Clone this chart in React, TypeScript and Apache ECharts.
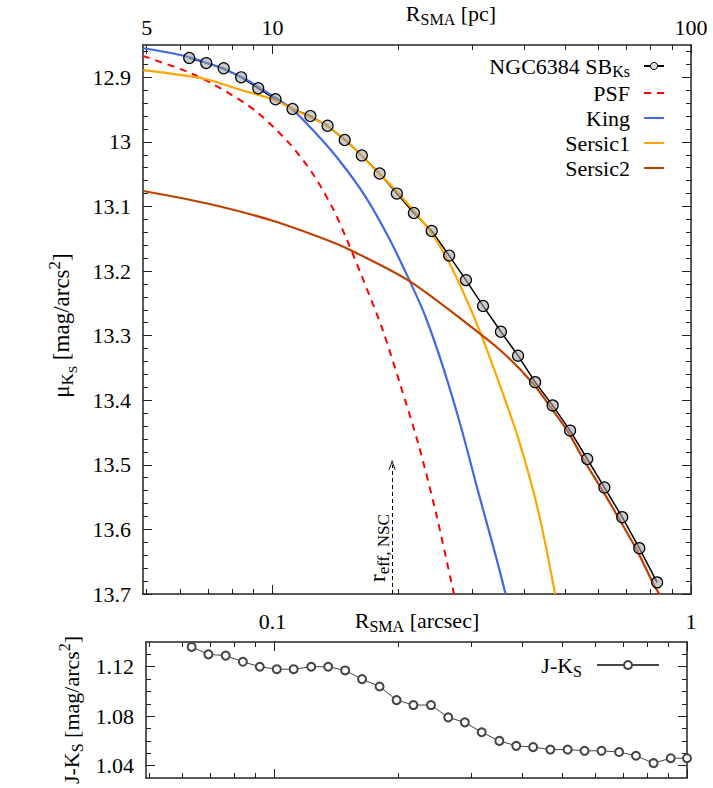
import React, { useEffect, useRef } from 'react';
import * as echarts from 'echarts';

const FONT = '"Liberation Serif", "DejaVu Serif", "Times New Roman", serif';
const AX = '#222';

// isophote radii (arcsec), shared by both panels
const radiusArcsec = [0.0632, 0.0694, 0.0764, 0.0841, 0.0924, 0.1016, 0.1116, 0.1231, 0.1353, 0.1487, 0.1634, 0.1802, 0.1981, 0.2176, 0.2400, 0.2642, 0.2898, 0.3184, 0.3513, 0.3860, 0.4241, 0.4669, 0.5140, 0.5649, 0.6208, 0.6848, 0.7523, 0.8299, 0.9131, 1.0];
// Ks surface brightness (mag/arcsec^2), first 28 radii
const sbKs = [12.870, 12.878, 12.886, 12.900, 12.917, 12.934, 12.949, 12.960, 12.975, 12.997, 13.021, 13.049, 13.080, 13.110, 13.138, 13.176, 13.214, 13.254, 13.294, 13.331, 13.372, 13.408, 13.447, 13.491, 13.535, 13.581, 13.629, 13.682];
// J-Ks colour
const jks = [1.136, 1.130, 1.129, 1.124, 1.120, 1.118, 1.118, 1.120, 1.120, 1.117, 1.110, 1.104, 1.093, 1.089, 1.089, 1.079, 1.075, 1.067, 1.060, 1.056, 1.055, 1.053, 1.053, 1.052, 1.052, 1.051, 1.048, 1.042, 1.046, 1.046];

// model components
const psfX = [0.0490, 0.0634, 0.0760, 0.0914, 0.1095, 0.1246, 0.1388, 0.1495, 0.1627, 0.1830, 0.2019, 0.2233, 0.2458, 0.2679, 0.2714];
const psfMu = [12.867, 12.893, 12.919, 12.953, 13.002, 13.049, 13.101, 13.147, 13.205, 13.290, 13.376, 13.469, 13.575, 13.684, 13.700];
const kingX = [0.0491, 0.0633, 0.0833, 0.1000, 0.1116, 0.1245, 0.1441, 0.1668, 0.1894, 0.2129, 0.2317, 0.2556, 0.2819, 0.3104, 0.3431, 0.3604];
const kingMu = [12.855, 12.869, 12.898, 12.929, 12.950, 12.981, 13.028, 13.085, 13.148, 13.216, 13.270, 13.349, 13.441, 13.543, 13.646, 13.700];
const sersic1X = [0.0491, 0.0694, 0.0833, 0.1000, 0.1116, 0.1315, 0.1494, 0.1729, 0.2001, 0.2402, 0.2642, 0.2875, 0.3128, 0.3458, 0.3860, 0.4308, 0.4734];
const sersic1Mu = [12.889, 12.903, 12.919, 12.934, 12.949, 12.971, 12.997, 13.038, 13.080, 13.142, 13.187, 13.237, 13.293, 13.369, 13.458, 13.570, 13.700];
const sersic2X = [0.0491, 0.0694, 0.1000, 0.1364, 0.1564, 0.2129, 0.3102, 0.3604, 0.4191, 0.4633, 0.5081, 0.5561, 0.6148, 0.6779, 0.7450, 0.8168, 0.8460];
const sersic2Mu = [13.076, 13.095, 13.122, 13.153, 13.170, 13.216, 13.295, 13.330, 13.374, 13.412, 13.449, 13.494, 13.540, 13.587, 13.634, 13.687, 13.703];

const reffNSC = 0.193;
const reffTipMu = 13.5;

// ticks
const xMajorBottom = [0.1, 1];
const xMinorBottom = [0.05, 0.06, 0.07, 0.08, 0.09, 0.2, 0.3, 0.4, 0.5, 0.6, 0.7, 0.8, 0.9];
const xMajorTop = [0.05, 0.1, 1];
const xMinorTop = [0.06, 0.07, 0.08, 0.09, 0.2, 0.3, 0.4, 0.5, 0.6, 0.7, 0.8, 0.9];
const yTopMajor = [12.9, 13, 13.1, 13.2, 13.3, 13.4, 13.5, 13.6, 13.7];
const yBotMajor = [1.04, 1.08, 1.12];
const yBotMinor = [1.05, 1.06, 1.07, 1.09, 1.10, 1.11, 1.13];
const yTopMinor: number[] = [];
for (let i = 0; i <= 42; i++) {
  const v = Math.round((12.86 + i * 0.02) * 100) / 100;
  if (Math.round(v * 100) % 10 !== 0) yTopMinor.push(v);
}

const zip = (xs: number[], ys: number[]) => ys.map((y, i) => [xs[i], y]);

const M = { fontFamily: FONT, fontSize: 22, lineHeight: 22, color: '#000' };
const S = { fontFamily: FONT, fontSize: 16, lineHeight: 22, color: '#000', padding: [12, 0, 0, 0] };
const SS = { fontFamily: FONT, fontSize: 12, lineHeight: 22, color: '#000', padding: [22, 0, 0, 0] };
const SUP = { fontFamily: FONT, fontSize: 16, lineHeight: 22, color: '#000', padding: [0, 0, 14, 0] };
const RICH = { m: M, s: S, ss: SS, sup: SUP };
const RICH_Y = {
  m: { ...M, fontSize: 23 },
  s: { ...S, fontSize: 17 },
  ss: { ...SS, fontSize: 13 },
  sup: { ...SUP, fontSize: 17 },
};

const xRange = { type: 'log', logBase: 10, min: 0.049, max: 1 };

function mkAxis(o: any) {
  return {
    ...o.range,
    gridIndex: o.grid,
    position: o.pos,
    axisLine: { show: o.line, onZero: false, lineStyle: { color: AX, width: 1.5 } },
    axisTick: { show: true, inside: true, length: o.len, lineStyle: { color: AX, width: 1 }, customValues: o.ticks },
    axisLabel: o.labels
      ? { show: true, customValues: o.labels, formatter: o.fmt, margin: o.margin, fontFamily: FONT, fontSize: 22, color: '#000' }
      : { show: false },
    splitLine: { show: false },
    minorTick: { show: false },
    minorSplitLine: { show: false },
    ...(o.extra || {}),
  };
}

const nameStyle = (padding?: number[], rich: any = RICH) => ({ fontFamily: FONT, fontSize: 22, lineHeight: 22, color: '#000', rich, padding });

const xAxes = [
  mkAxis({ range: xRange, grid: 0, pos: 'bottom', ticks: xMajorBottom, len: 9, line: true, labels: xMajorBottom, fmt: (v: number) => String(+v.toFixed(2)), margin: 16,
    extra: { name: '{m|R}{s|SMA}{m| [arcsec]}', nameLocation: 'middle', nameGap: 15, nameMoveOverlap: false, nameTextStyle: nameStyle() } }),
  mkAxis({ range: xRange, grid: 0, pos: 'bottom', ticks: xMinorBottom, len: 5, line: false }),
  mkAxis({ range: xRange, grid: 0, pos: 'top', ticks: xMajorTop, len: 9, line: true, labels: xMajorTop, fmt: (v: number) => String(Math.round(v * 100)), margin: 7,
    extra: { name: '{m|R}{s|SMA}{m| [pc]}', nameLocation: 'middle', nameGap: 21, nameMoveOverlap: false, nameTextStyle: nameStyle([0, 0, 0, 68]) } }),
  mkAxis({ range: xRange, grid: 0, pos: 'top', ticks: xMinorTop, len: 5, line: false }),
  mkAxis({ range: xRange, grid: 1, pos: 'bottom', ticks: xMajorBottom, len: 9, line: true }),
  mkAxis({ range: xRange, grid: 1, pos: 'bottom', ticks: xMinorBottom, len: 5, line: false }),
  mkAxis({ range: xRange, grid: 1, pos: 'top', ticks: xMajorBottom, len: 9, line: true }),
  mkAxis({ range: xRange, grid: 1, pos: 'top', ticks: xMinorBottom, len: 5, line: false }),
];

const yTopRange = { type: 'value', min: 12.85, max: 13.7, inverse: true };
const yBotRange = { type: 'value', min: 1.03, max: 1.14 };

const yAxes = [
  mkAxis({ range: yTopRange, grid: 0, pos: 'left', ticks: yTopMajor, len: 9, line: true, labels: yTopMajor, fmt: (v: number) => String(+v.toFixed(2)), margin: 12,
    extra: { name: '{m|μ}{s|K}{ss|S}{m| [mag/arcs}{sup|2}{m|]}', nameLocation: 'middle', nameRotate: 90, nameGap: 71, nameMoveOverlap: false, nameTextStyle: nameStyle([0, 12, 0, 0], RICH_Y) } }),
  mkAxis({ range: yTopRange, grid: 0, pos: 'left', ticks: yTopMinor, len: 5, line: false }),
  mkAxis({ range: yTopRange, grid: 0, pos: 'right', ticks: yTopMajor, len: 9, line: true }),
  mkAxis({ range: yTopRange, grid: 0, pos: 'right', ticks: yTopMinor, len: 5, line: false }),
  mkAxis({ range: yBotRange, grid: 1, pos: 'left', ticks: yBotMajor, len: 9, line: true, labels: yBotMajor, fmt: (v: number) => v.toFixed(2), margin: 12,
    extra: { name: '{m|J-K}{s|S}{m| [mag/arcs}{sup|2}{m|]}', nameLocation: 'middle', nameRotate: 90, nameGap: 64, nameMoveOverlap: false, nameTextStyle: nameStyle() } }),
  mkAxis({ range: yBotRange, grid: 1, pos: 'left', ticks: yBotMinor, len: 5, line: false }),
  mkAxis({ range: yBotRange, grid: 1, pos: 'right', ticks: yBotMajor, len: 9, line: true }),
  mkAxis({ range: yBotRange, grid: 1, pos: 'right', ticks: yBotMinor, len: 5, line: false }),
];

const curve = (name: string, xs: number[], ys: number[], color: string, extraLine: any = {}, more: any = {}) => ({
  name,
  type: 'line',
  xAxisIndex: 0,
  yAxisIndex: 0,
  data: zip(xs, ys),
  symbol: 'none',
  smooth: 0.3,
  itemStyle: { color },
  lineStyle: { color, width: 2.2, ...extraLine },
  ...more,
});

const option = {
  animation: false,
  backgroundColor: '#fff',
  grid: [
    { left: 143, top: 45, width: 548, height: 549, containLabel: false, outerBoundsMode: 'none' },
    { left: 146, top: 642, width: 541, height: 136, containLabel: false, outerBoundsMode: 'none' },
  ],
  xAxis: xAxes,
  yAxis: yAxes,
  legend: [
    {
      data: [
        { name: 'NGC6384 SBKs', itemStyle: { color: '#ddd', borderColor: '#000', borderWidth: 1 } },
        { name: 'PSF', itemStyle: { opacity: 0 } },
        { name: 'King', itemStyle: { opacity: 0 } },
        { name: 'Sersic1', itemStyle: { opacity: 0 } },
        { name: 'Sersic2', itemStyle: { opacity: 0 } },
      ],
      orient: 'vertical',
      right: 48,
      top: 53,
      align: 'right',
      itemWidth: 20,
      itemHeight: 9,
      itemGap: 3,
      padding: 0,
      selectedMode: false,
      formatter: (n: string) => (n === 'NGC6384 SBKs' ? '{m|NGC6384 SB}{s|Ks}' : '{m|' + n + '}'),
      textStyle: { fontFamily: FONT, fontSize: 22, lineHeight: 20, color: '#000', padding: [0, 9, 0, 0], rich: { m: { ...M, lineHeight: 20 }, s: { ...S, lineHeight: 20, padding: [10, 0, 0, 0] } } },
    },
    {
      data: [{ name: 'J-KS' }],
      orient: 'vertical',
      right: 53,
      top: 651,
      align: 'right',
      itemWidth: 62,
      itemHeight: 10,
      padding: 0,
      selectedMode: false,
      formatter: () => '{m|J-K}{s|S}',
      textStyle: { fontFamily: FONT, fontSize: 22, lineHeight: 20, color: '#000', padding: [0, 10, 0, 0], rich: { m: { ...M, lineHeight: 20 }, s: { ...S, lineHeight: 20, padding: [12, 0, 0, 0] } } },
    },
  ],
  series: [
    {
      name: 'NGC6384 SBKs',
      type: 'line',
      xAxisIndex: 0,
      yAxisIndex: 0,
      data: zip(radiusArcsec, sbKs),
      symbol: 'circle',
      symbolSize: 11,
      itemStyle: { color: 'rgba(160,160,160,0.55)', borderColor: '#000', borderWidth: 1.2 },
      lineStyle: { color: '#000', width: 1.5 },
    },
    curve('PSF', psfX, psfMu, '#ff0000', { type: [7, 6], width: 2 }, {
      markLine: {
        silent: true,
        symbol: ['none', 'path://M0,12 L6,0 L12,12 L10.4,12 L6,3.2 L1.6,12 Z'],
        symbolSize: [7, 10],
        lineStyle: { color: '#000', type: [4, 3], width: 1 },
        label: {
          show: true,
          position: 'insideStartTop',
          distance: 4,
          padding: [0, 0, 0, 8],
          formatter: () => '{r|r}{s|eff, NSC}',
          rich: { r: { ...M, fontSize: 23 }, s: { ...S, fontSize: 17 } },
        },
        data: [[{ coord: [reffNSC, 13.7] }, { coord: [reffNSC, reffTipMu] }]],
      },
    }),
    curve('King', kingX, kingMu, '#4169e1'),
    curve('Sersic1', sersic1X, sersic1Mu, '#ffa500'),
    curve('Sersic2', sersic2X, sersic2Mu, '#c04000'),
    {
      name: 'J-KS',
      type: 'line',
      xAxisIndex: 4,
      yAxisIndex: 4,
      data: zip(radiusArcsec, jks),
      symbol: 'emptyCircle',
      symbolSize: 8,
      itemStyle: { color: '#444', borderWidth: 1 },
      lineStyle: { color: '#444', width: 1 },
    },
  ],
};

export default function App() {
  const ref = useRef<HTMLDivElement>(null);
  useEffect(() => {
    const chart = echarts.init(ref.current as HTMLDivElement, null, { renderer: 'svg' });
    chart.setOption(option as any);
    return () => chart.dispose();
  }, []);
  return (
    <div
      ref={ref}
      style={{ position: 'fixed', left: 0, top: 0, width: 713, height: 788, background: '#fff' }}
    />
  );
}
